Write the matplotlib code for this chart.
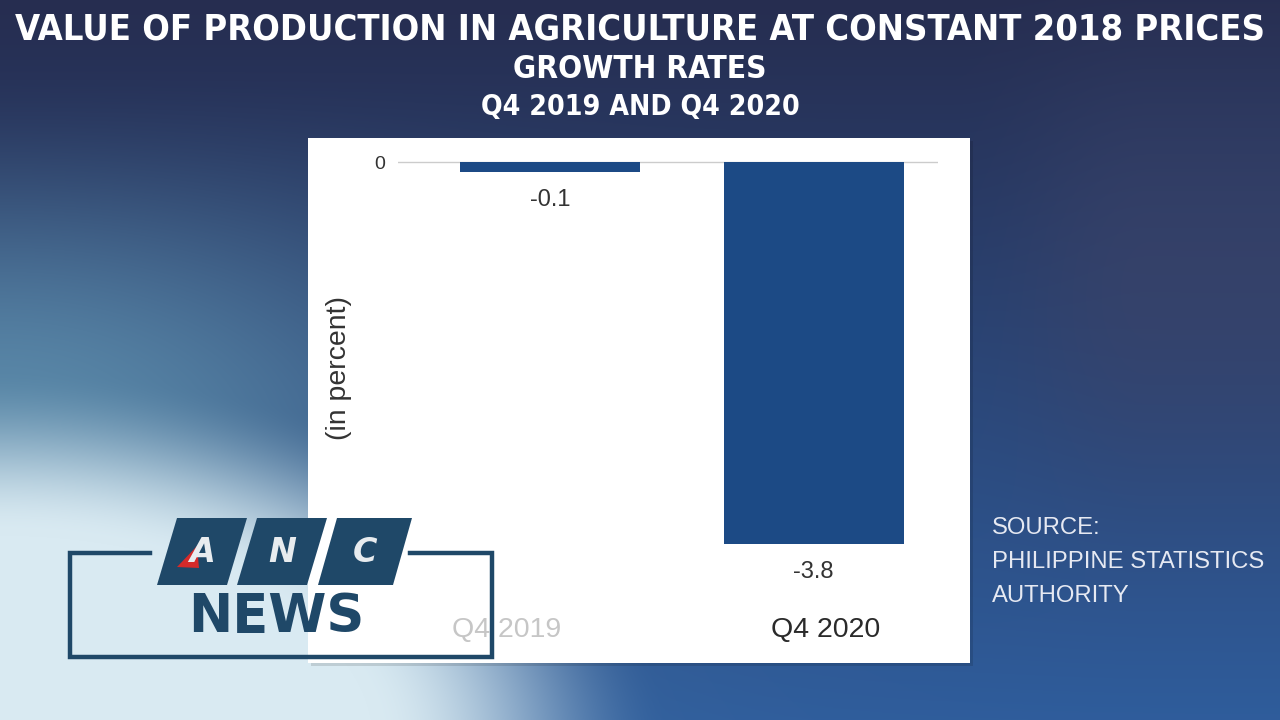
#!/usr/bin/env python3
"""
Agriculture production growth rates, Q4 2019 vs Q4 2020 (ANC News style graphic).
"""
import matplotlib
matplotlib.use('Agg')
import matplotlib.pyplot as plt
import matplotlib.transforms as mtransforms
from matplotlib.patches import Rectangle, Polygon
import numpy as np

W, H = 1280, 720

# Data
categories = ['Q4 2019', 'Q4 2020']
growth = [-0.1, -3.8]
value_labels = ['-0.1', '-3.8']

title = 'VALUE OF PRODUCTION IN AGRICULTURE AT CONSTANT 2018 PRICES'
subtitle_1 = 'GROWTH RATES'
subtitle_2 = 'Q4 2019 AND Q4 2020'
source_lines = ['SOURCE:', 'PHILIPPINE STATISTICS', 'AUTHORITY']

NAVY = '#1f4868'
BAR = '#1c4a85'


def hexrgb(h):
    return np.array([int(h[i:i + 2], 16) for i in (1, 3, 5)]) / 255


def smooth(a, lo, hi):
    s = np.clip((a - lo) / (hi - lo), 0, 1)
    return s * s * (3 - 2 * s)


fig = plt.figure(figsize=(12.8, 7.2), dpi=100)

# ---- background gradient ----
bg = fig.add_axes([0, 0, 1, 1])
yy, xx = np.mgrid[0:H, 0:W].astype(float)
t = (yy / H)[..., None]
img = hexrgb('#262d50') * (1 - t) + hexrgb('#2f5d9c') * t
# purple-grey haze on the right, upper half
wr = (smooth(xx, 950, 1150) * np.exp(-((yy - 280) / 200.0) ** 2))[..., None] * 0.6
img = img * (1 - wr) + hexrgb('#3c4368') * wr
# teal tint on the left side
w1 = (np.exp(-(xx / 420.0) ** 2) * smooth(yy, 60, 420))[..., None]
img = img * (1 - w1) + hexrgb('#5a88a8') * w1
# light haze bottom-left
d = np.sqrt((xx / 600.0) ** 2 + ((yy - 740) / 330.0) ** 2)
w2 = (1 - smooth(d, 0.62, 1.12))[..., None]
img = img * (1 - w2) + hexrgb('#d9eaf2') * w2
bg.imshow(img, extent=[0, W, H, 0], aspect='auto')
bg.set_xlim(0, W)
bg.set_ylim(H, 0)
bg.axis('off')

# white panel with a faint shadow
bg.add_patch(Rectangle((311, 141), 662, 525, facecolor='black', alpha=0.12, edgecolor='none', zorder=2))
bg.add_patch(Rectangle((308, 138), 662, 525, facecolor='white', edgecolor='none', zorder=2))

# ---- titles (fitted to their width in the reference) ----
renderer = fig.canvas.get_renderer()
for txt, y, width, size in [(title, 30, 1250, 27), (subtitle_1, 69, 253, 21), (subtitle_2, 107, 319, 21)]:
    tt = bg.text(640, y, txt, color='white', fontsize=size, fontweight='bold',
                 family='DejaVu Sans', fontstretch='condensed',
                 ha='center', va='center', zorder=5)
    tw = tt.get_window_extent(renderer).width
    tt.set_fontsize(size * width / tw)

# ---- source ----
for i, line in enumerate(source_lines):
    bg.text(992, 528 + i * 34, line, color='#e6e9f2', fontsize=17.2, family='Liberation Sans',
            ha='left', va='center', zorder=5)

# ---- bar chart ----
ax = fig.add_axes([398 / W, 1 - 600 / H, (938 - 398) / W, (600 - 158) / H], zorder=3)
ax.patch.set_alpha(0)
x = np.arange(len(categories))
ax.bar(x, growth, width=0.683, color=BAR, zorder=3)
for xi, v, lab in zip(x, growth, value_labels):
    ax.annotate(lab, xy=(xi, v), xytext=(0, -20), textcoords='offset points',
                ha='center', va='center', fontsize=17, color='#333333', family='Liberation Sans')
ax.set_xlim(-0.577, 1.472)
ax.set_ylim(-4.36, 0.04)
ax.set_yticks([0])
ax.set_yticklabels(['0'], fontsize=14, color='#333333', family='Liberation Sans')
ax.set_xticks(x)
ax.set_xticklabels(categories, fontsize=20.5, color='#2a2a2a', family='Liberation Sans')
ax.tick_params(axis='both', length=0)
ax.tick_params(axis='y', pad=9)
ax.tick_params(axis='x', pad=12)
# the first label is faded and both sit slightly off the bar centres in the reference
shifts = [-43, 12]
xt_labels = ax.get_xticklabels()
xt_labels[0].set_color('#c6c6c6')
for lab, dx in zip(xt_labels, shifts):
    lab.set_transform(lab.get_transform() + mtransforms.ScaledTranslation(dx / 100, 0, fig.dpi_scale_trans))
ax.grid(axis='y', color='#cccccc', linewidth=1, zorder=1)
for s in ax.spines.values():
    s.set_visible(False)
ax.set_ylabel('(in percent)', fontsize=20.5, color='#333333', family='Liberation Sans')
ax.yaxis.set_label_coords(-46 / 540, (600 - 368) / 442)

# ---- ANC NEWS logo ----
lg = fig.add_axes([0, 0, 1, 1], zorder=10)
lg.set_xlim(0, W)
lg.set_ylim(H, 0)
lg.axis('off')
lg.plot([150, 70, 70, 492, 492, 410], [553, 553, 657, 657, 553, 553], color=NAVY, lw=3.2,
        solid_joinstyle='miter')
shapes = [(157, 227, 177, 247), (237, 307, 257, 327), (318, 393, 337, 412)]
for letter, (bl, br, tl, tr) in zip('ANC', shapes):
    lg.add_patch(Polygon([(bl, 585), (br, 585), (tr, 518), (tl, 518)], closed=True,
                         facecolor=NAVY, edgecolor='none'))
    lg.text((bl + br + tl + tr) / 4, 552, letter, color='#e8ecef', fontsize=24,
            fontweight='bold', style='italic', ha='center', va='center')
lg.add_patch(Polygon([(177, 567), (197, 546), (199, 568)], closed=True, facecolor='#d42a2a',
                     edgecolor='none'))
lg.text(276, 617, 'NEWS', color=NAVY, fontsize=38, fontweight='bold', family='DejaVu Sans',
        ha='center', va='center')

fig.savefig('out.png', dpi=100)
